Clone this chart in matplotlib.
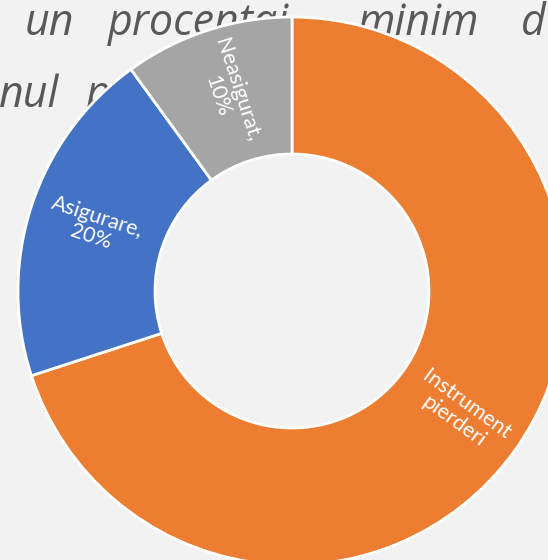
import numpy as np
import matplotlib.pyplot as plt

# Donut chart: share of loss instrument vs insured / uninsured
labels = ['Instrument\npierderi', 'Asigurare,\n20%', 'Neasigurat,\n10%']
shares = [70, 20, 10]
colors = ['#ED7D31', '#4472C4', '#A5A5A5']

# words of the paragraph partly hidden behind the chart
lineWords = [['un', 'procentaj', 'minim', 'd'], ['nul', 'p']]
wordX = [[25, 108, 358, 521], [-1, 86]]
lineY = [35, 107]   # baselines, pixels from the top

W, H = 548, 560
fig = plt.figure(figsize=(W/100, H/100), dpi=100)
fig.patch.set_facecolor('#F2F2F2')
ax = fig.add_axes([0, 0, 1, 1])
ax.set_facecolor('#F2F2F2')

cx, cy, R = 292, H - 291, 274
wedges, _ = ax.pie(shares, colors=colors, startangle=90, counterclock=False,
                   center=(cx, cy), radius=R,
                   wedgeprops=dict(width=R*0.5, edgecolor='white', linewidth=2))
for w in wedges:
    w.set_zorder(2)

# pie resets the limits, so set them afterwards (1 unit = 1 pixel)
ax.set_xlim(0, W)
ax.set_ylim(0, H)
ax.set_aspect('equal')
ax.set_axis_off()

# Background paragraph text
for words, xs, y in zip(lineWords, wordX, lineY):
    for word, x in zip(words, xs):
        ax.text(x, H - y, word, fontsize=31, style='italic',
                color='#595959', family='Open Sans', ha='left',
                va='baseline', zorder=0)

# Labels in the middle of the ring, rotated along the radius
for w, lab in zip(wedges, labels):
    mid = (w.theta1 + w.theta2) / 2
    r = R * 0.76
    x = cx + r*np.cos(np.radians(mid))
    y = cy + r*np.sin(np.radians(mid))
    rot = (mid + 180) % 360 - 180
    if rot > 90:
        rot -= 180
    elif rot < -90:
        rot += 180
    ax.text(x, y, lab, color='white', fontsize=15.5, family='Lato',
            ha='center', va='center', rotation=rot, rotation_mode='anchor',
            linespacing=1.05, zorder=3)

fig.savefig('out.png', dpi=100, facecolor=fig.get_facecolor())
